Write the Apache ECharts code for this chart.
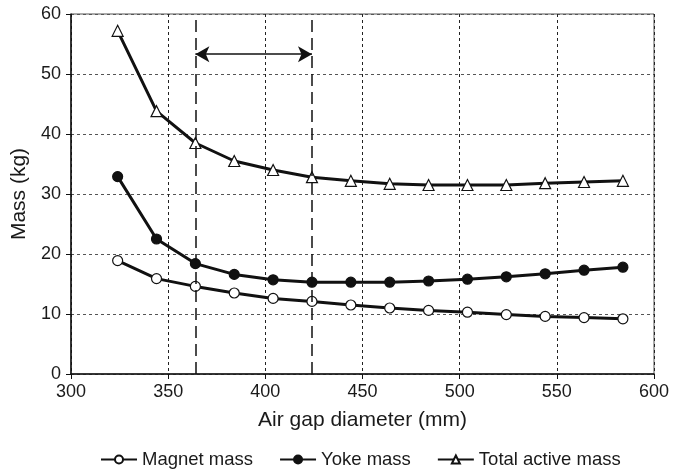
<!DOCTYPE html>
<html>
<head>
<meta charset="utf-8">
<script src="https://cdn.jsdelivr.net/npm/echarts@6/dist/echarts.min.js"></script>
<style>
  html, body { margin: 0; padding: 0; background: #fff; }
  #chart { width: 690px; height: 470px; }
</style>
</head>
<body>
<div id="chart"></div>
<script>
// air gap diameter (mm)
const diameters = [324, 344, 364, 384, 404, 424, 444, 464, 484, 504, 524, 544, 564, 584];
// masses (kg)
const magnetMass = [18.9, 15.9, 14.6, 13.5, 12.6, 12.1, 11.5, 11.0, 10.6, 10.3, 9.9, 9.6, 9.4, 9.2];
const yokeMass = [32.9, 22.5, 18.4, 16.6, 15.7, 15.3, 15.3, 15.3, 15.5, 15.8, 16.2, 16.7, 17.3, 17.8];
const totalMass = [57.2, 43.8, 38.5, 35.5, 34.0, 32.8, 32.2, 31.7, 31.5, 31.5, 31.5, 31.8, 32.0, 32.2];
// optimum range marked on the chart
const rangeBounds = [364, 424];
const arrowLevel = 53.3;

const font = 'Liberation Sans, Arial, sans-serif';
const chart = echarts.init(document.getElementById('chart'));

const pairs = (ys) => diameters.map((d, i) => [d, ys[i]]);

const lineSeries = (name, ys, symbol, fill) => ({
  name: name,
  type: 'line',
  data: pairs(ys),
  symbol: symbol,
  symbolSize: symbol === 'triangle' ? 11 : 10,
  lineStyle: { color: '#111', width: 3 },
  itemStyle: { color: fill, borderColor: '#111', borderWidth: 1.2 },
  emphasis: { disabled: true },
  animation: false
});

const option = {
  animation: false,
  grid: {
    left: 71, right: 36, top: 14, bottom: 96,
    outerBoundsMode: 'none',
    containLabel: false,
    show: true, borderColor: '#555', borderWidth: 1
  },
  xAxis: {
    type: 'value',
    min: 300, max: 600, interval: 50,
    name: 'Air gap diameter (mm)',
    nameLocation: 'middle',
    nameGap: 36,
    nameTextStyle: { fontFamily: font, fontSize: 21, color: '#1a1a1a' },
    axisLine: { lineStyle: { color: '#111', width: 1.5 } },
    axisTick: { show: true, length: 5, lineStyle: { color: '#111' } },
    axisLabel: { fontFamily: font, fontSize: 18, color: '#1a1a1a', margin: 9 },
    splitLine: { lineStyle: { color: '#222', type: [3, 3], width: 1 } }
  },
  yAxis: {
    type: 'value',
    min: 0, max: 60, interval: 10,
    name: 'Mass (kg)',
    nameLocation: 'middle',
    nameGap: 38,
    nameTextStyle: { fontFamily: font, fontSize: 21, color: '#1a1a1a' },
    axisLine: { show: true, lineStyle: { color: '#111', width: 1.5 } },
    axisTick: { show: true, length: 5, lineStyle: { color: '#111' } },
    axisLabel: { fontFamily: font, fontSize: 18, color: '#1a1a1a', margin: 10 },
    splitLine: { lineStyle: { color: '#555', type: [3, 3], width: 1 } }
  },
  legend: {
    bottom: -4,
    left: 95,
    itemWidth: 36,
    itemHeight: 10,
    itemGap: 26,
    textStyle: { fontFamily: font, fontSize: 18.5, color: '#1a1a1a' },
    data: ['Magnet mass', 'Yoke mass', 'Total active mass']
  },
  series: [
    lineSeries('Magnet mass', magnetMass, 'circle', '#fff'),
    lineSeries('Yoke mass', yokeMass, 'circle', '#111'),
    Object.assign(lineSeries('Total active mass', totalMass, 'triangle', '#fff'), {
      markLine: {
        silent: true,
        animation: false,
        label: { show: false },
        data: [
          [
            { coord: [rangeBounds[0], arrowLevel], symbol: 'arrow' },
            { coord: [rangeBounds[1], arrowLevel], symbol: 'arrow' }
          ],
          [
            { coord: [rangeBounds[0], 0], symbol: 'none' },
            { coord: [rangeBounds[0], 60], symbol: 'none', lineStyle: { type: [12, 6], width: 1.5 } }
          ],
          [
            { coord: [rangeBounds[1], 0], symbol: 'none' },
            { coord: [rangeBounds[1], 60], symbol: 'none', lineStyle: { type: [12, 6], width: 1.5 } }
          ]
        ],
        symbolSize: [12, 14],
        lineStyle: { color: '#111', type: 'solid', width: 1.5 }
      }
    })
  ]
};

chart.setOption(option);
</script>
</body>
</html>
